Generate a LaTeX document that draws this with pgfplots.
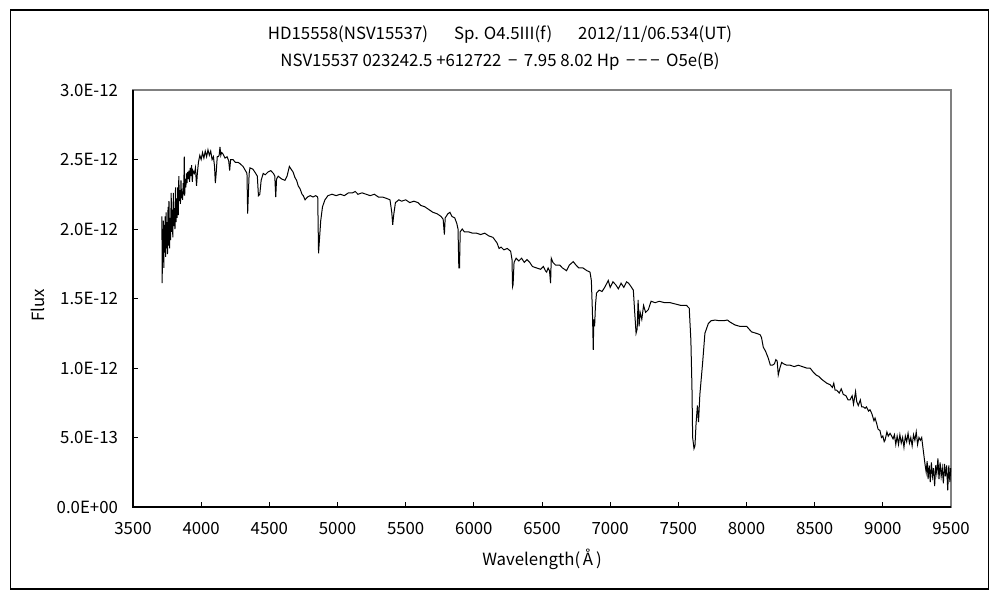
\documentclass[border=0pt]{standalone}
\usepackage{fontspec}
\setmainfont{Noto Sans CJK JP}
\usepackage{pgfplots}
\pgfplotsset{compat=1.18}
\begin{document}
\begin{tikzpicture}
\path[use as bounding box] (0pt,0pt) rectangle (500pt,300pt);
\draw[line width=0.8pt] (5.25pt,5.5pt) rectangle (494.25pt,295pt);
\node[font=\fontsize{8.4}{10}\selectfont] at (250pt,282.5pt) {HD15558(NSV15537)\hspace{13pt}Sp. O4.5III(f)\hspace{13pt}2012/11/06.534(UT)};
\node[font=\fontsize{8.4}{10}\selectfont] at (250pt,269pt) {NSV15537 023242.5 +612722 \,−\, 7.95 8.02 Hp \,−\,−\,−\, O5e(B)};
\begin{axis}[
  at={(66.5pt,46.5pt)}, anchor=south west,
  scale only axis, width=409pt, height=208.5pt,
  xmin=3500, xmax=9500, ymin=0, ymax=3,
  xtick={3500,4000,...,9500},
  ytick={0,0.5,1,1.5,2,2.5,3},
  yticklabels={0.0E+00,5.0E-13,1.0E-12,1.5E-12,2.0E-12,2.5E-12,3.0E-12},
  scaled x ticks=false,
  /pgf/number format/1000 sep={},
  /pgf/number format/assume math mode=true,
  tick label style={font=\fontsize{8.4}{10}\selectfont},
  xticklabel style={yshift=-4pt},
  yticklabel style={xshift=-4pt},
  tick align=inside, xtick pos=bottom, ytick pos=left,
  major tick length=2.5pt,
  tick style={black, line width=0.5pt},
  axis line style={draw=gray, line width=0.6pt},
  xlabel={Wavelength(\,Å\,)},
  ylabel={Flux},
  label style={font=\fontsize{8.4}{10}\selectfont},
  xlabel style={at={(axis description cs:0.5,-0.125)}, anchor=center},
  ylabel style={at={(axis description cs:-0.116,0.484)}, anchor=center},
  clip=false,
]
\addplot[black, line width=0.5pt] coordinates {
(3712,2.09) (3714,1.61) (3717,2.00) (3720,1.76) (3723,2.06) (3726,1.72) (3729,2.03) (3732,1.83)
(3736,2.09) (3739,1.80) (3743,2.12) (3746,1.86) (3750,2.05) (3753,1.82) (3757,2.16) (3760,1.88)
(3764,2.20) (3768,1.86) (3772,2.08) (3776,1.92) (3780,2.26) (3784,1.98) (3788,2.14) (3792,1.94)
(3796,2.26) (3800,2.02) (3804,2.15) (3808,2.00) (3812,2.30) (3816,2.05) (3820,2.22) (3824,2.08)
(3828,2.30) (3832,2.10) (3836,2.38) (3840,2.20) (3844,2.28) (3848,2.18) (3852,2.35) (3856,2.22)
(3860,2.27) (3864,2.21) (3868,2.33) (3872,2.25) (3876,2.52) (3879,2.24) (3884,2.36) (3888,2.30)
(3892,2.40) (3896,2.33) (3900,2.41) (3905,2.36) (3910,2.42) (3915,2.34) (3920,2.44) (3925,2.38)
(3930,2.46) (3935,2.34) (3940,2.42) (3950,2.40) (3958,2.44) (3966,2.31) (3972,2.40) (3980,2.48)
(3990,2.53) (4000,2.50) (4010,2.55) (4020,2.51) (4030,2.56) (4040,2.52) (4050,2.57) (4060,2.53)
(4070,2.56) (4080,2.50) (4090,2.52) (4098,2.45) (4104,2.33) (4110,2.40) (4118,2.52) (4125,2.52)
(4132,2.53) (4138,2.59) (4144,2.53) (4150,2.55) (4160,2.54) (4175,2.51) (4190,2.52) (4202,2.49)
(4209,2.42) (4216,2.50) (4233,2.50) (4250,2.48) (4270,2.48) (4285,2.47) (4307,2.45) (4325,2.42)
(4336,2.40) (4341,2.11) (4346,2.25) (4352,2.40) (4358,2.44) (4380,2.43) (4400,2.40) (4412,2.38)
(4420,2.24) (4430,2.25) (4440,2.35) (4455,2.40) (4470,2.39) (4490,2.41) (4510,2.42) (4530,2.40)
(4540,2.38) (4547,2.23) (4553,2.36) (4565,2.38) (4590,2.36) (4615,2.35) (4630,2.38) (4647,2.45)
(4660,2.43) (4674,2.41) (4688,2.37) (4700,2.35) (4712,2.31) (4725,2.29) (4740,2.25) (4749,2.24)
(4762,2.21) (4780,2.23) (4800,2.24) (4820,2.23) (4840,2.24) (4855,2.23) (4861,1.825) (4866,1.90)
(4877,2.06) (4890,2.16) (4908,2.21) (4930,2.24) (4960,2.25) (4990,2.24) (5020,2.25) (5050,2.24)
(5080,2.26) (5110,2.26) (5130,2.27) (5150,2.25) (5180,2.26) (5210,2.25) (5240,2.24) (5270,2.25)
(5300,2.23) (5330,2.23) (5360,2.22) (5385,2.21) (5398,2.12) (5405,2.03) (5412,2.10) (5425,2.19)
(5450,2.21) (5470,2.20) (5500,2.21) (5530,2.19) (5560,2.20) (5590,2.19) (5610,2.17) (5640,2.16)
(5670,2.14) (5700,2.12) (5730,2.11) (5760,2.09) (5775,2.07) (5784,1.96) (5790,2.08) (5810,2.11)
(5825,2.12) (5840,2.09) (5860,2.08) (5875,2.04) (5884,2.00) (5890,1.72) (5895,1.72) (5900,1.98)
(5915,2.00) (5930,1.98) (5960,1.98) (5990,1.97) (6020,1.97) (6050,1.96) (6080,1.97) (6110,1.95)
(6140,1.94) (6170,1.90) (6185,1.86) (6200,1.87) (6220,1.85) (6245,1.86) (6270,1.84) (6280,1.78)
(6284,1.585) (6288,1.60) (6295,1.76) (6310,1.79) (6330,1.77) (6350,1.79) (6370,1.76) (6390,1.78)
(6410,1.76) (6430,1.73) (6460,1.72) (6490,1.71) (6510,1.73) (6525,1.70) (6534,1.69) (6545,1.72)
(6555,1.70) (6563,1.61) (6568,1.79) (6580,1.76) (6600,1.74) (6630,1.74) (6650,1.72) (6680,1.70)
(6700,1.74) (6729,1.765) (6750,1.74) (6770,1.72) (6800,1.72) (6830,1.70) (6852,1.69) (6862,1.63)
(6870,1.40) (6876,1.13) (6880,1.35) (6886,1.30) (6892,1.45) (6900,1.54) (6920,1.56) (6940,1.55)
(6960,1.58) (6986,1.63) (7000,1.58) (7020,1.62) (7040,1.60) (7060,1.57) (7080,1.61) (7100,1.58)
(7120,1.62) (7135,1.61) (7150,1.59) (7170,1.56) (7180,1.40) (7190,1.25) (7198,1.28) (7205,1.49)
(7212,1.30) (7220,1.40) (7232,1.35) (7245,1.45) (7260,1.40) (7280,1.42) (7300,1.48) (7330,1.47)
(7360,1.48) (7400,1.47) (7440,1.47) (7480,1.46) (7520,1.45) (7560,1.45) (7580,1.43) (7592,1.20)
(7600,0.86) (7605,0.50) (7615,0.42) (7622,0.44) (7630,0.60) (7640,0.73) (7648,0.61) (7658,0.81)
(7678,1.035) (7695,1.25) (7720,1.32) (7740,1.34) (7770,1.345) (7800,1.34) (7830,1.34) (7860,1.345)
(7880,1.33) (7915,1.31) (7950,1.30) (7980,1.30) (8001,1.30) (8037,1.26) (8070,1.25) (8099,1.24)
(8110,1.22) (8123,1.15) (8140,1.12) (8160,1.07) (8175,1.02) (8190,1.02) (8205,1.03) (8215,1.06)
(8225,1.05) (8233,0.95) (8245,1.00) (8258,1.04) (8272,1.03) (8295,1.02) (8320,1.02) (8350,1.01)
(8380,1.02) (8410,1.01) (8440,1.00) (8466,1.00) (8490,0.97) (8510,0.95) (8530,0.94) (8550,0.92)
(8563,0.91) (8590,0.89) (8613,0.88) (8630,0.86) (8640,0.89) (8650,0.84) (8662,0.84) (8680,0.82)
(8695,0.85) (8710,0.81) (8730,0.80) (8745,0.77) (8759,0.77) (8775,0.80) (8785,0.74) (8800,0.83)
(8808,0.76) (8820,0.73) (8835,0.77) (8845,0.72) (8857,0.72) (8870,0.71) (8880,0.72) (8895,0.69)
(8906,0.70) (8920,0.67) (8935,0.62) (8943,0.64) (8955,0.60) (8965,0.56) (8979,0.55) (8990,0.50)
(9000,0.51) (9010,0.47) (9016,0.48) (9030,0.54) (9040,0.51) (9053,0.53) (9065,0.51) (9075,0.49)
(9085,0.52) (9095,0.45) (9105,0.51) (9115,0.45) (9125,0.52) (9135,0.46) (9145,0.50) (9155,0.43)
(9165,0.51) (9175,0.47) (9185,0.53) (9195,0.46) (9205,0.50) (9215,0.44) (9225,0.52) (9235,0.48)
(9245,0.54) (9255,0.45) (9265,0.50) (9275,0.48) (9285,0.50) (9295,0.42) (9309,0.31) (9318,0.25)
(9325,0.33) (9332,0.20) (9340,0.30) (9348,0.18) (9356,0.32) (9364,0.22) (9372,0.28) (9380,0.15)
(9388,0.30) (9396,0.24) (9404,0.35) (9412,0.20) (9420,0.32) (9428,0.22) (9436,0.28) (9444,0.17)
(9452,0.31) (9460,0.22) (9468,0.30) (9476,0.12) (9484,0.30) (9492,0.18) (9498,0.28)
};
\draw[black, line width=0.6pt] (rel axis cs:0,1) -- (rel axis cs:0,0) -- (rel axis cs:1,0);
\end{axis}
\end{tikzpicture}
\end{document}
